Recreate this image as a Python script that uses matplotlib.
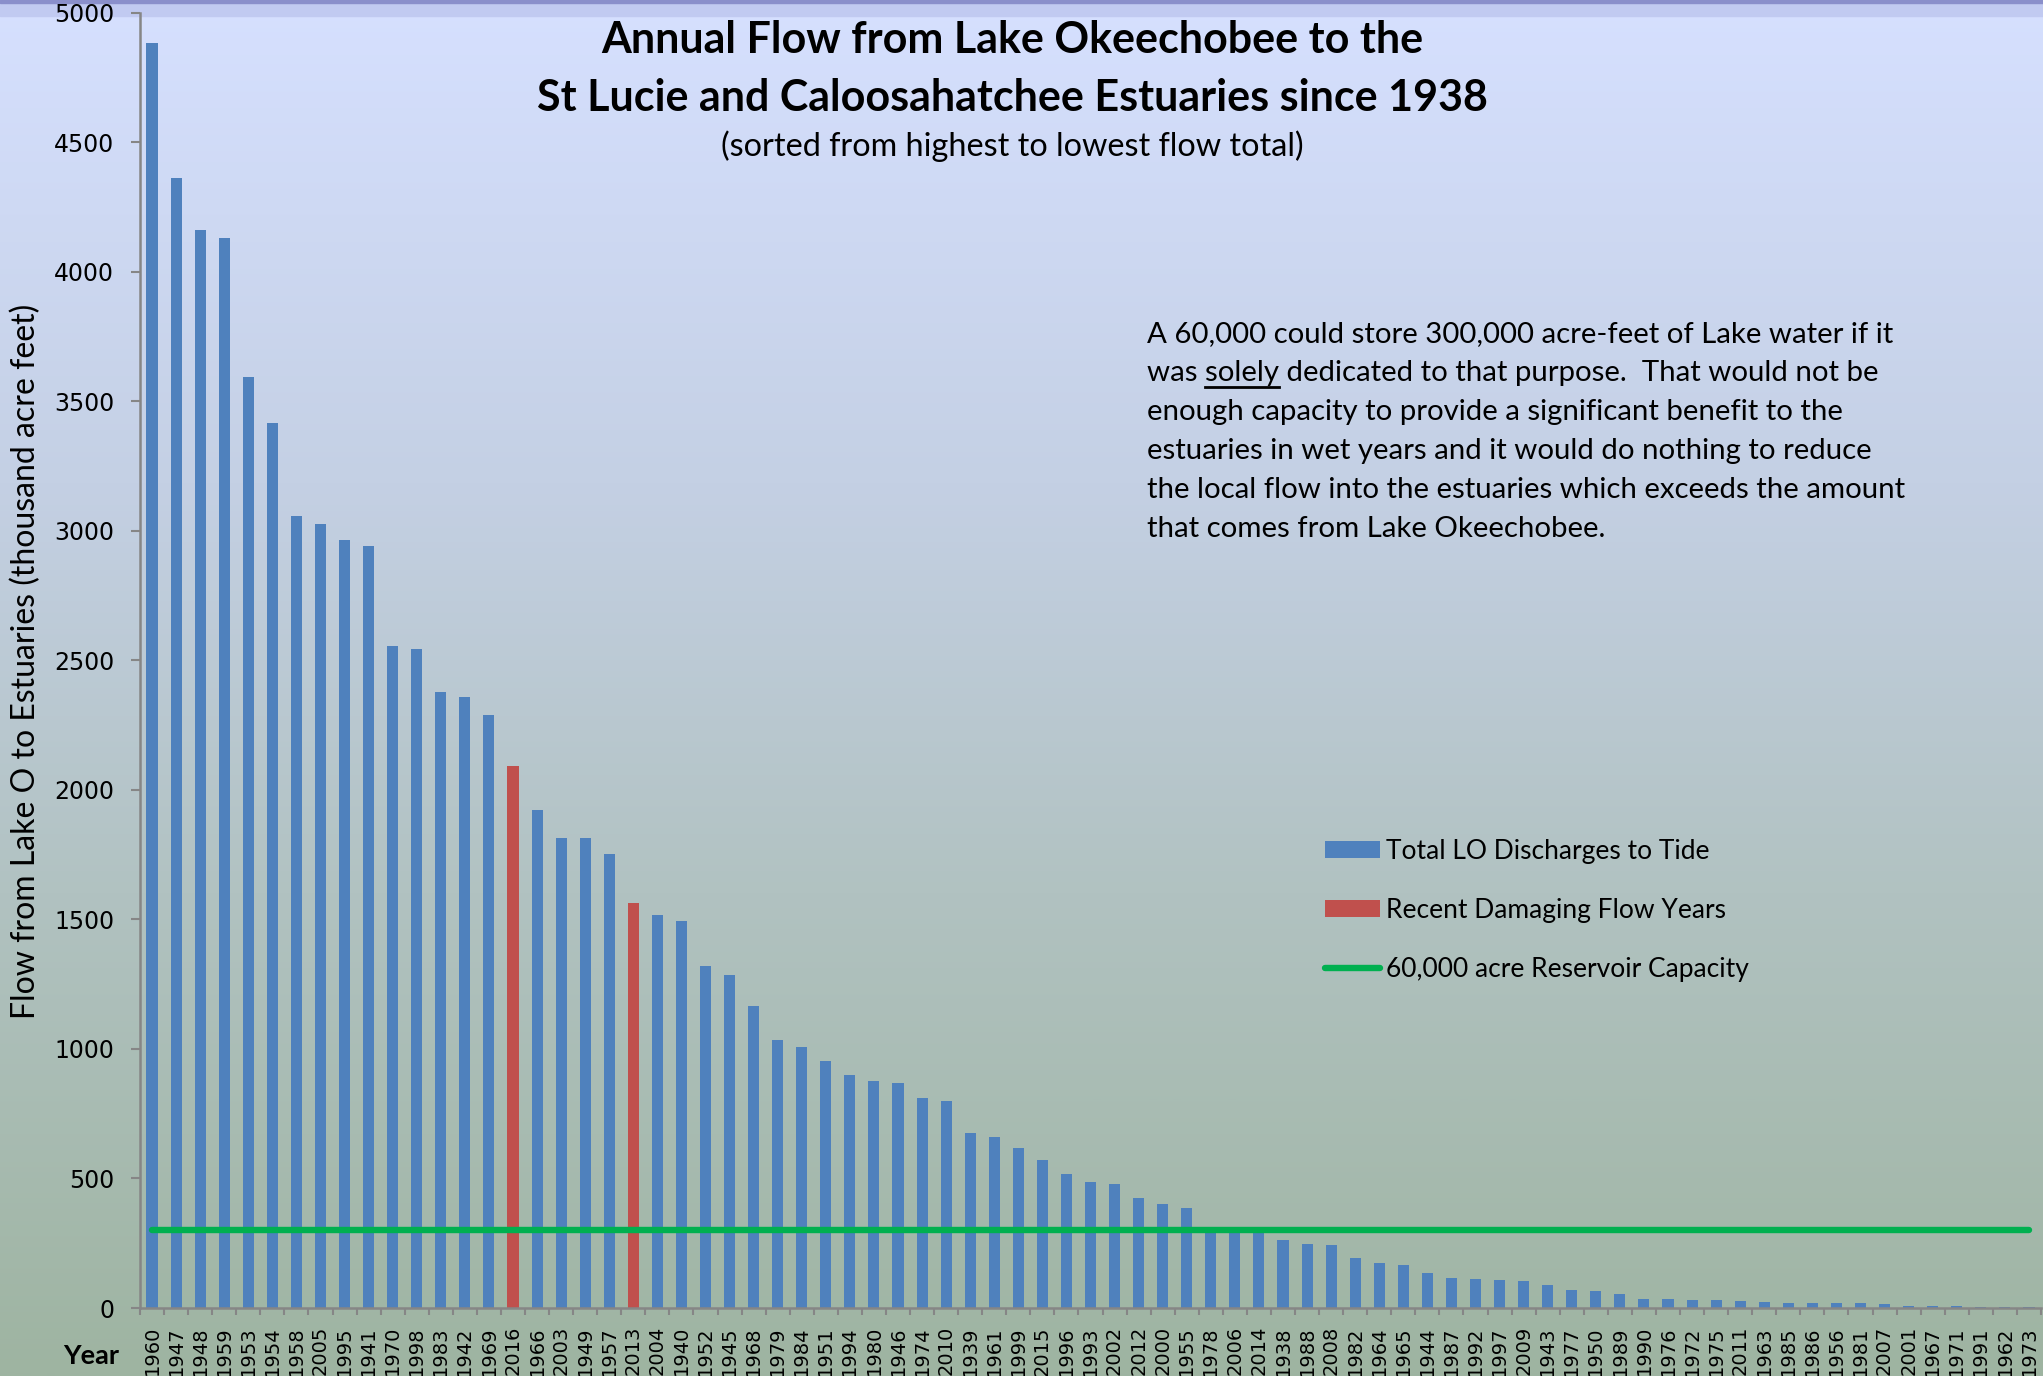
import numpy as np
import matplotlib
matplotlib.use('Agg')
import matplotlib.pyplot as plt
from matplotlib.patches import Patch
from matplotlib.lines import Line2D
from matplotlib.colors import LinearSegmentedColormap

# years sorted by total Lake O discharge (thousand acre-feet)
years = ['1960', '1947', '1948', '1959', '1953', '1954', '1958', '2005', '1995', '1941',
         '1970', '1998', '1983', '1942', '1969', '2016', '1966', '2003', '1949', '1957',
         '2013', '2004', '1940', '1952', '1945', '1968', '1979', '1984', '1951', '1994',
         '1980', '1946', '1974', '2010', '1939', '1961', '1999', '2015', '1996', '1993',
         '2002', '2012', '2000', '1955', '1978', '2006', '2014', '1938', '1988', '2008',
         '1982', '1964', '1965', '1944', '1987', '1992', '1997', '2009', '1943', '1977',
         '1950', '1989', '1990', '1976', '1972', '1975', '2011', '1963', '1985', '1986',
         '1956', '1981', '2007', '2001', '1967', '1971', '1991', '1962', '1973']
flows = [4884, 4363, 4160, 4131, 3592, 3416, 3058, 3028, 2963, 2943,
         2555, 2545, 2379, 2359, 2289, 2092, 1922, 1815, 1814, 1751,
         1563, 1518, 1494, 1321, 1286, 1166, 1035, 1006, 954, 900,
         875, 870, 810, 800, 674, 659, 619, 573, 518, 488,
         478, 425, 402, 386, 311, 300, 296, 262, 247, 243,
         193, 172, 166, 134, 115, 111, 108, 103, 88, 68,
         64, 53, 34, 34, 30, 30, 26, 23, 19, 19,
         19, 19, 15, 7, 6, 6, 5, 4, 2]
damaging_years = ['2016', '2013']
reservoir_capacity = 300

BLUE = '#4f81bd'
RED = '#c0504d'
GREEN = '#00b050'
GREY = '#868686'
FONT = 'Lato'

W, H = 2043, 1376
fig = plt.figure(figsize=(W / 100, H / 100), dpi=100)

# slide-style gradient background
bg = fig.add_axes([0, 0, 1, 1], zorder=-10)
bg.axis('off')
cmap = LinearSegmentedColormap.from_list(
    'bg', [(0, '#9eb4a1'), (0.35, '#b1c2c1'), (0.65, '#c4d0e4'), (1, '#d6e0ff')])
grad = np.linspace(0, 1, 512).reshape(-1, 1)
bg.imshow(grad, aspect='auto', cmap=cmap, origin='lower', extent=[0, 1, 0, 1])
bg.axhspan(1 - 16 / H, 1, color='#c1caf1')
bg.axhspan(1 - 3 / H, 1, color='#8a8fcb')
bg.set_xlim(0, 1)
bg.set_ylim(0, 1)

ax = fig.add_axes([140 / W, 1 - 1308 / H, 1901 / W, 1295.3 / H])
ax.patch.set_alpha(0)

x = np.arange(len(years))
colors = [RED if y in damaging_years else BLUE for y in years]
ax.bar(x, flows, width=0.46, color=colors, zorder=2)
ax.plot([x[0], x[-1]], [reservoir_capacity] * 2, color=GREEN, lw=4.6,
        solid_capstyle='round', zorder=3)

ax.set_xlim(-0.5, len(years) - 0.5)
ax.set_ylim(0, 5000)
ax.set_yticks(range(0, 5001, 500))
ax.set_xticks(x)
ax.set_xticklabels(years, rotation=90, fontsize=14, family='DejaVu Sans', va='top')
ax.set_xticks(np.arange(-0.5, len(years), 1), minor=True)
ax.tick_params(axis='x', which='major', length=0, pad=13)
ax.tick_params(axis='x', which='minor', length=5, width=1.5, color=GREY)
ax.tick_params(axis='y', length=6.5, width=1.5, color=GREY, pad=12)
for lab in ax.get_yticklabels():
    lab.set_fontsize(17)
    lab.set_family('DejaVu Sans')
for side in ('top', 'right'):
    ax.spines[side].set_visible(False)
for side in ('left', 'bottom'):
    ax.spines[side].set_color(GREY)
    ax.spines[side].set_linewidth(1.8)

# titles
fig.text(1012 / W, 1 - 40 / H, 'Annual Flow from Lake Okeechobee to the',
         ha='center', va='center', fontsize=31, fontweight='bold', family=FONT)
fig.text(1012 / W, 1 - 98 / H, 'St Lucie and Caloosahatchee Estuaries since 1938',
         ha='center', va='center', fontsize=31, fontweight='bold', family=FONT)
fig.text(1012 / W, 1 - 146 / H, '(sorted from highest to lowest flow total)',
         ha='center', va='center', fontsize=23.3, family=FONT)

fig.text(26 / W, 1 - 661 / H, 'Flow from Lake O to Estuaries (thousand acre feet)',
         rotation=90, ha='center', va='center', fontsize=23, family=FONT)
fig.text(91 / W, 1 - 1356 / H, 'Year', ha='center', va='center',
         fontsize=19.5, fontweight='bold', family=FONT)

# explanatory note
note = ['A 60,000 could store 300,000 acre-feet of Lake water if it',
        'was solely dedicated to that purpose.  That would not be',
        'enough capacity to provide a significant benefit to the',
        'estuaries in wet years and it would do nothing to reduce',
        'the local flow into the estuaries which exceeds the amount',
        'that comes from Lake Okeechobee.']
note_x = 1147
note_fs = 21.2
for i, line in enumerate(note):
    fig.text(note_x / W, 1 - (342 + 39 * i) / H, line, ha='left', va='baseline',
             fontsize=note_fs, family=FONT)

# underline "solely"
fig.canvas.draw()
renderer = fig.canvas.get_renderer()


def text_width(s):
    t = fig.text(0, 0, s, fontsize=note_fs, family=FONT)
    w = t.get_window_extent(renderer).width
    t.remove()
    return w


u_end = note_x + text_width('was solely')
u_start = u_end - text_width('solely')
u_y = 1 - (342 + 39 + 6) / H
fig.add_artist(Line2D([u_start / W, u_end / W], [u_y, u_y], color='black', lw=2))

handles = [Patch(facecolor=BLUE), Patch(facecolor=RED),
           Line2D([], [], color=GREEN, lw=4.6, solid_capstyle='round')]
labels = ['Total LO Discharges to Tide', 'Recent Damaging Flow Years',
          '60,000 acre Reservoir Capacity']
fig.legend(handles, labels, loc='upper left', bbox_to_anchor=(1325 / W, 1 - 839 / H),
           frameon=False, prop={'family': FONT, 'size': 19}, borderpad=0,
           borderaxespad=0, handlelength=2.1, handleheight=0.6,
           handletextpad=0.2, labelspacing=1.28)

fig.savefig('out.png', dpi=100)
